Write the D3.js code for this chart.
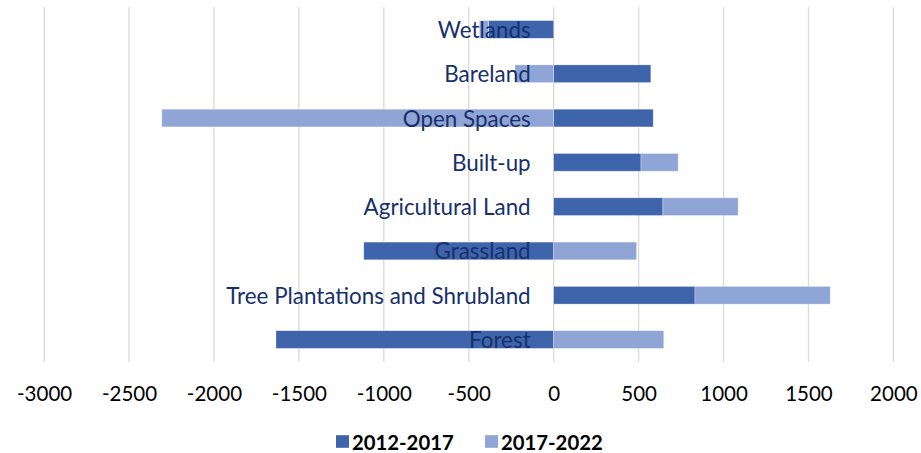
<!DOCTYPE html>
<html>
<head>
<meta charset="utf-8">
<script src="https://cdn.jsdelivr.net/npm/d3@7"></script>
<style>
  html, body { margin: 0; padding: 0; background: #fff; }
  svg { display: block; }
</style>
</head>
<body>
<svg id="chart" width="921" height="453"></svg>
<script>
// Land-cover change by class, two periods (hectares)
const categories = ["Wetlands", "Bareland", "Open Spaces", "Built-up",
  "Agricultural Land", "Grassland", "Tree Plantations and Shrubland", "Forest"];
const seriesNames = ["2012-2017", "2017-2022"];
const change2012_2017 = [-384, 572, 586, 514, 643, -1118, 832, -1635];
const change2017_2022 = [-53, -228, -2307, 219, 443, 488, 796, 648];
const tickValues = [-3000, -2500, -2000, -1500, -1000, -500, 0, 500, 1000, 1500, 2000];
const colors = ["#3E64AB", "#8FA5D5"];

const rows = categories.map((c, i) => ({
  category: c,
  "2012-2017": change2012_2017[i],
  "2017-2022": change2017_2022[i]
}));

const svg = d3.select("#chart");
const plot = { left: 44.1, right: 893.4, top: 7.3, bottom: 361.7 };
const font = "Lato, 'Open Sans', sans-serif";

const x = d3.scaleLinear().domain([-3000, 2000]).range([plot.left, plot.right]);
const y = d3.scaleBand().domain(categories).range([plot.top, plot.bottom])
  .paddingInner(0.6).paddingOuter(0.3);

// vertical gridlines
svg.append("g").selectAll("line").data(tickValues).join("line")
  .attr("x1", d => x(d)).attr("x2", d => x(d))
  .attr("y1", plot.top).attr("y2", plot.bottom)
  .attr("stroke", "#D9D9D9").attr("stroke-width", 1.3);

// diverging stacked bars
const stacked = d3.stack().keys(seriesNames).offset(d3.stackOffsetDiverging)(rows);
svg.append("g").selectAll("g").data(stacked).join("g")
  .attr("fill", (d, i) => colors[i])
  .selectAll("rect").data(d => d).join("rect")
  .attr("x", d => x(Math.min(d[0], d[1])))
  .attr("width", d => Math.abs(x(d[1]) - x(d[0])))
  .attr("y", d => y(d.data.category))
  .attr("height", y.bandwidth())
  .attr("stroke", "#ffffff").attr("stroke-opacity", 0.45).attr("stroke-width", 0.7);

// category labels next to the zero line
svg.append("g").selectAll("text").data(categories).join("text")
  .attr("x", x(0) - 23)
  .attr("y", d => y(d) + y.bandwidth() / 2)
  .attr("text-anchor", "end").attr("dominant-baseline", "central")
  .attr("font-family", font)
  .attr("font-size", 22.4)
  .attr("fill", "#17306B")
  .text(d => d);

// x axis tick labels (plain hyphen for negatives)
const xAxis = d3.axisBottom(x).tickValues(tickValues).tickSize(0).tickPadding(0)
  .tickFormat(d => String(d));
const ax = svg.append("g").attr("transform", `translate(0, ${plot.bottom})`).call(xAxis);
ax.select(".domain").remove();
ax.selectAll("text")
  .attr("y", 31).attr("dy", null).attr("dominant-baseline", "central")
  .attr("font-family", font)
  .attr("font-size", 20.5).attr("fill", "#000");

// legend
const legend = svg.append("g");
const legendX = [336, 485];
seriesNames.forEach((name, i) => {
  const g = legend.append("g").attr("transform", `translate(${legendX[i]}, 441.5)`);
  g.append("rect").attr("x", 0).attr("y", -6.3).attr("width", 13).attr("height", 12.6)
    .attr("fill", colors[i]);
  g.append("text").attr("x", 16).attr("y", 0).attr("dominant-baseline", "central")
    .attr("font-family", font)
    .attr("font-weight", "bold").attr("font-size", 20.3).attr("fill", "#000")
    .text(name);
});
</script>
</body>
</html>
